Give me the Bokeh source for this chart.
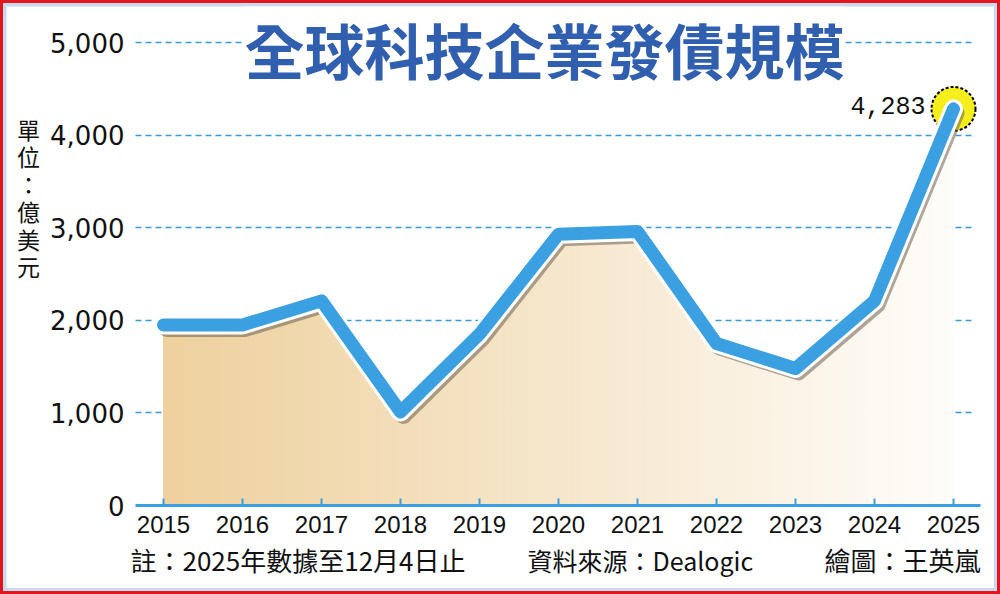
import numpy as np
from bokeh.plotting import figure
from bokeh.models import Label, FixedTicker, NumeralTickFormatter, Range1d
from bokeh.embed import file_html
from bokeh.resources import INLINE

# ---- data ----
years = [2015, 2016, 2017, 2018, 2019, 2020, 2021, 2022, 2023, 2024, 2025]
issuance = [1950, 1950, 2210, 1010, 1850, 2930, 2960, 1750, 1480, 2210, 4283]
y_ticks = [0, 1000, 2000, 3000, 4000, 5000]
title_text = "全球科技企業發債規模"
unit_text = "單\n位\n：\n億\n美\n元"
note_text = "註：2025年數據至12月4日止"
source_text = "資料來源：Dealogic"
credit_text = "繪圖：王英嵐"
last_label = "4,283"

W, H = 1000, 594
CW, CH = W, H                     # canvas size (border drawn around, offset 6px)
PXY = 79.0                        # px per year
X15 = 157                         # canvas x of 2015
Y0, Y5K = 499, 36                 # canvas y of 0 and 5000
ppk = (Y0 - Y5K) / 5.0            # px per 1000


def dx(px):
    return 2015 + (px - X15) / PXY


def dy(py):
    return (Y0 - py) / ppk * 1000


p = figure(width=W, height=H, output_backend="svg", toolbar_location=None,
           x_range=Range1d(dx(0), dx(CW)), y_range=Range1d(dy(CH), dy(0)),
           min_border_left=0, min_border_right=0, min_border_top=0, min_border_bottom=0)
p.styles = {"border": "3px solid #e3161e", "padding": "3px", "background-color": "#c6dbf1"}
p.background_fill_color = "white"
p.border_fill_color = "white"
p.outline_line_color = None

# gradient fill under the line (vertical strips coloured left->right)
xs = np.linspace(years[0], years[-1], 241)
tops = np.interp(xs, years, issuance)
c0 = np.array([0xEE, 0xD1, 0x9E])
c1 = np.array([0xFF, 0xFD, 0xFA])
sx, sy, cols = [], [], []
for i in range(len(xs) - 1):
    t = i / (len(xs) - 2)
    c = (c0 + (c1 - c0) * t).astype(int)
    col = "#%02x%02x%02x" % tuple(c)
    sx.append([xs[i], xs[i + 1], xs[i + 1], xs[i]])
    sy.append([0, 0, tops[i + 1], tops[i]])
    cols.append(col)
p.patches(sx, sy, fill_color=cols, line_color=cols, line_width=1)

# highlight circle at last point
p.scatter([years[-1]], [issuance[-1]], size=44, fill_color="#f6ee1c",
          line_color="black", line_dash="3 2", line_width=2)

# line with shadow and white outline
sdx = 3 / PXY
sdy = -4 / ppk * 1000
p.line([x + sdx for x in years], [v + sdy for v in issuance], line_color="#6e5e4e",
       line_alpha=0.55, line_width=16, line_join="round", line_cap="round")
p.line(years, issuance, line_color="white", line_width=19, line_join="round", line_cap="round")
p.line(years, issuance, line_color="#3aa0e2", line_width=13, line_join="round", line_cap="round")

# axes (fixed inside the frame)
p.yaxis.fixed_location = dx(127)
p.yaxis.bounds = (0, 5000)
p.yaxis.ticker = FixedTicker(ticks=y_ticks)
p.yaxis.formatter = NumeralTickFormatter(format="0,0")
p.yaxis.axis_line_color = None
p.yaxis.major_tick_line_color = None
p.yaxis.minor_tick_line_color = None
p.yaxis.major_label_standoff = 3
p.yaxis.major_label_text_font = "DejaVu Sans"
p.yaxis.major_label_text_font_size = "26px"
p.yaxis.major_label_text_color = "#111111"

p.xaxis.fixed_location = 0
p.xaxis.bounds = (dx(129), dx(974))
p.xaxis.ticker = FixedTicker(ticks=years)
p.xaxis.axis_line_color = "#3a9fe0"
p.xaxis.axis_line_width = 3
p.xaxis.major_tick_line_color = "#3a9fe0"
p.xaxis.major_tick_line_width = 2
p.xaxis.major_tick_in = 7
p.xaxis.major_tick_out = 0
p.xaxis.minor_tick_line_color = None
p.xaxis.major_label_standoff = 10
p.xaxis.major_label_text_font = "Liberation Sans"
p.xaxis.major_label_text_font_size = "24px"
p.xaxis.major_label_text_color = "#111111"

p.xgrid.grid_line_color = None
p.ygrid.ticker = FixedTicker(ticks=y_ticks[1:])
p.ygrid.cross_bounds = (dx(129), dx(969))
p.ygrid.grid_line_color = "#3a9ad9"
p.ygrid.grid_line_width = 1.5
p.ygrid.grid_line_dash = "6 4"

cjk = "Noto Sans CJK TC"

p.add_layout(Label(x=538, y=CH - 42, x_units="screen", y_units="screen", text=title_text,
                   text_font=cjk, text_font_style="bold", text_font_size="60px",
                   text_color="#2f5fae", text_align="center", text_baseline="middle",
                   background_fill_color="white", border_line_color=None))

p.add_layout(Label(x=22, y=CH - 191, x_units="screen", y_units="screen", text=unit_text,
                   text_font=cjk, text_font_size="23px", text_color="#111111",
                   text_align="center", text_baseline="middle", text_line_height=0.81))

p.add_layout(Label(x=years[-1], y=issuance[-1], x_offset=-28, y_offset=3, text=last_label,
                   text_font="Liberation Mono", text_font_size="25px", text_color="#111111",
                   text_align="right", text_baseline="middle"))

for txt, xx, al, fs in [(note_text, 124, "left", "26px"), (source_text, 521, "left", "25px"),
                        (credit_text, 974, "right", "26px")]:
    p.add_layout(Label(x=xx, y=CH - 553, x_units="screen", y_units="screen", text=txt,
                       text_font=cjk, text_font_size=fs, text_color="#111111",
                       text_align=al, text_baseline="middle"))

open("out.html", "w").write(file_html(p, INLINE))
